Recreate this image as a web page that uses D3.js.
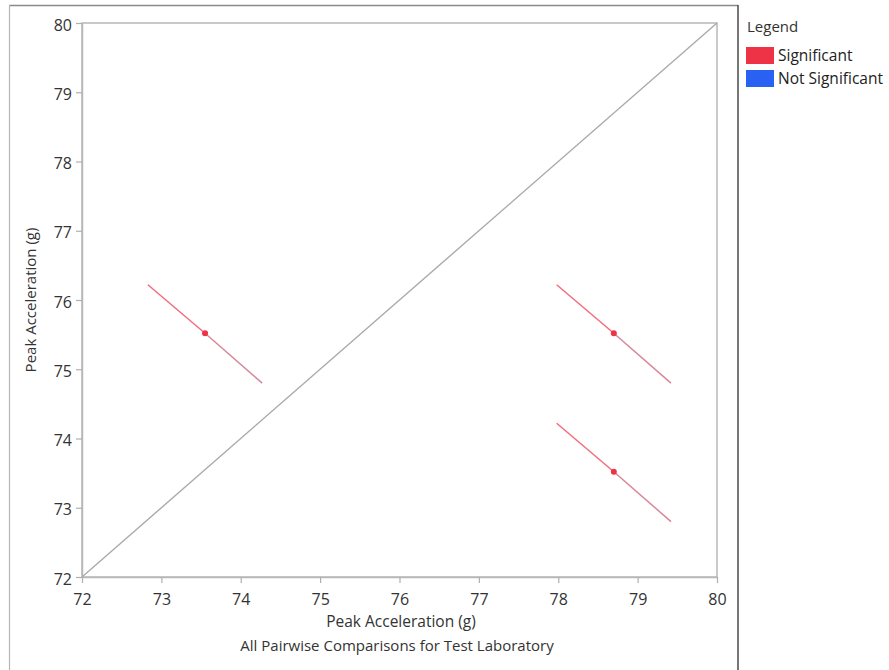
<!DOCTYPE html>
<html><head><meta charset="utf-8">
<script src="https://cdn.jsdelivr.net/npm/d3@7"></script>
<style>body{margin:0;background:#fff;} svg{display:block;font-family:"Open Sans","Noto Sans",sans-serif;}</style>
</head><body>
<svg id="chart" width="889" height="670"></svg>
<script>
const xTicks = [72, 73, 74, 75, 76, 77, 78, 79, 80];
const yTicks = [72, 73, 74, 75, 76, 77, 78, 79, 80];
const pointX = [73.55, 78.70, 78.70];
const pointY = [75.52, 75.52, 73.52];
const startX = [72.83, 77.98, 77.98];
const startY = [76.22, 76.22, 74.22];
const endX = [74.27, 79.42, 79.42];
const endY = [74.80, 74.80, 72.80];
const status = ["Significant", "Significant", "Significant"];
const legendLabels = ["Significant", "Not Significant"];
const legendColors = ["#ee3347", "#2962f2"];
const xTitle = "Peak Acceleration (g)";
const yTitle = "Peak Acceleration (g)";
const subTitle = "All Pairwise Comparisons for Test Laboratory";

const svg = d3.select("#chart");
const L = 82, T = 23, R = 717, B = 577;
const x = d3.scaleLinear().domain([72, 80]).range([L, R]);
const y = d3.scaleLinear().domain([72, 80]).range([B, T]);

// outer frame
svg.append("line").attr("x1", 9).attr("x2", 738).attr("y1", 5.5).attr("y2", 5.5).attr("stroke", "#8a8a8a").attr("stroke-width", 1.5);
svg.append("line").attr("x1", 9.5).attr("x2", 9.5).attr("y1", 5).attr("y2", 670).attr("stroke", "#b5b5b5").attr("stroke-width", 1.2);
svg.append("line").attr("x1", 738).attr("x2", 738).attr("y1", 5).attr("y2", 670).attr("stroke", "#555").attr("stroke-width", 1.6);

// plot frame
svg.append("rect").attr("x", L).attr("y", T).attr("width", R - L).attr("height", B - T)
  .attr("fill", "none").attr("stroke", "#b8b8b8").attr("stroke-width", 1.5);

// axes
const xAxis = svg.append("g").attr("transform", `translate(0,${B})`)
  .call(d3.axisBottom(x).tickValues(xTicks).tickSize(6).tickSizeOuter(0).tickFormat(d3.format("d")));
const yAxis = svg.append("g").attr("transform", `translate(${L},0)`)
  .call(d3.axisLeft(y).tickValues(yTicks).tickSize(6).tickSizeOuter(0).tickFormat(d3.format("d")));
[xAxis, yAxis].forEach(g => {
  g.select(".domain").attr("stroke", "#b8b8b8").attr("stroke-width", 1.5);
  g.selectAll(".tick line").attr("stroke", "#b0b0b0").attr("stroke-width", 1.2);
  g.selectAll(".tick text").attr("fill", "#333").attr("font-size", 16).attr("font-family", "'Open Sans','Noto Sans',sans-serif");
});
xAxis.selectAll(".tick text").attr("dy", "0.71em").attr("y", 17);
yAxis.selectAll(".tick text").attr("x", -10).attr("dy", "0.45em");

// diagonal
svg.append("line").attr("x1", x(72)).attr("y1", y(72)).attr("x2", x(80)).attr("y2", y(80))
  .attr("stroke", "#aaaaaa").attr("stroke-width", 1.4);

// comparison segments
const data = pointX.map((d, i) => ({px: d, py: pointY[i], sx: startX[i], sy: startY[i], ex: endX[i], ey: endY[i], s: status[i]}));
const g = svg.append("g");
g.selectAll(".upper").data(data).join("line")
  .attr("x1", d => x(d.sx)).attr("y1", d => y(d.sy)).attr("x2", d => x(d.px)).attr("y2", d => y(d.py))
  .attr("stroke", "#f26d7d").attr("stroke-width", 1.5);
g.selectAll(".lower").data(data).join("line")
  .attr("x1", d => x(d.px)).attr("y1", d => y(d.py)).attr("x2", d => x(d.ex)).attr("y2", d => y(d.ey))
  .attr("stroke", "#d9879a").attr("stroke-width", 1.5);
g.selectAll("circle").data(data).join("circle")
  .attr("cx", d => x(d.px)).attr("cy", d => y(d.py)).attr("r", 3)
  .attr("fill", d => legendColors[legendLabels.indexOf(d.s)]);

// titles
svg.append("text").attr("x", 401).attr("y", 627).attr("text-anchor", "middle").attr("font-size", 15.5).attr("fill", "#333").text(xTitle);
svg.append("text").attr("x", 397).attr("y", 651).attr("text-anchor", "middle").attr("font-size", 15).attr("fill", "#333").text(subTitle);
svg.append("text").attr("transform", `translate(36,300) rotate(-90)`).attr("text-anchor", "middle").attr("font-size", 15).attr("fill", "#333").text(yTitle);

// legend
svg.append("text").attr("x", 747).attr("y", 32).attr("font-size", 15).attr("fill", "#333").text("Legend");
const lg = svg.append("g").selectAll("g").data(legendLabels).join("g")
  .attr("transform", (d, i) => `translate(746,${47 + i * 23})`);
lg.append("rect").attr("width", 28).attr("height", 17).attr("fill", (d, i) => legendColors[i]);
lg.append("text").attr("x", 32).attr("y", 14).attr("font-size", 15.5).attr("fill", "#222").text(d => d);
</script>
</body></html>
